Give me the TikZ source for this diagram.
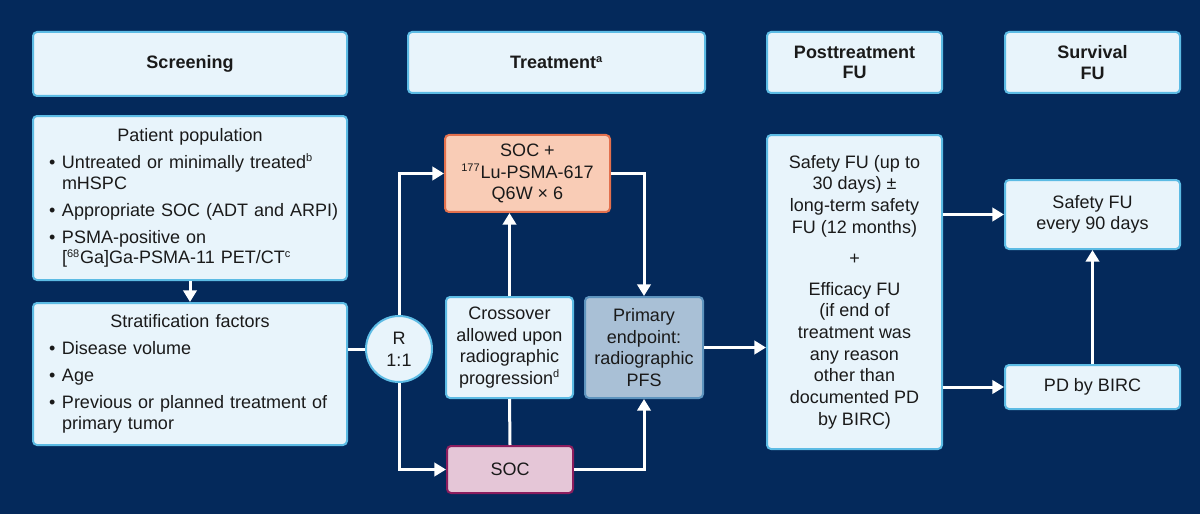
\documentclass[tikz,border=0pt]{standalone}
\usepackage{fontspec}
\setmainfont{Liberation Sans}
\usepackage{tikz}
\usetikzlibrary{arrows.meta}

\definecolor{navy}{HTML}{04295B}
\definecolor{boxfill}{HTML}{E8F4FB}
\definecolor{boxline}{HTML}{5CBBE4}
\definecolor{ink}{HTML}{1A1A1A}
\definecolor{lufill}{HTML}{F9CCB6}
\definecolor{luline}{HTML}{E3704D}
\definecolor{socfill}{HTML}{E5C6D7}
\definecolor{socline}{HTML}{8C1D5E}
\definecolor{pfsfill}{HTML}{A9C0D6}
\definecolor{pfsline}{HTML}{5E94BE}

% list helpers for the screening boxes
\newcommand{\ttl}[1]{{\centering #1\par}}
\newcommand{\itm}[1]{\par\vspace{3.8pt}\noindent\hangindent=7.8pt\hangafter=1\rightskip=-12pt plus 1fil\relax\makebox[7.8pt][l]{•}#1\par}
\newcommand{\fn}[1]{\textsuperscript{\fontsize{6.6}{7}\selectfont #1}}

\begin{document}
\begin{tikzpicture}[x=0.6pt, y=-0.6pt,
    box/.style={draw=boxline, fill=boxfill, line width=1.2pt, rounded corners=2.4pt,
      text=ink, inner sep=0pt, align=center, font=\fontsize{10.8}{13}\selectfont},
    head/.style={box, font=\fontsize{10.8}{12.2}\selectfont\bfseries},
    list/.style={box, align=left, text width=169.2pt, font=\fontsize{10.8}{12.4}\selectfont},
    flow/.style={draw=white, line width=1.8pt},
    arr/.style={flow, -{Triangle[width=8pt,length=7pt]}}]

  % Background
  \fill[navy] (0,0) rectangle (1200,514);

  % Column headers
  \node[head, minimum width=188.4pt, minimum height=38.4pt] (scr) at (190,64) {Screening};
  \node[head, minimum width=178.2pt, minimum height=36.6pt] (trt) at (556.5,62.5) {Treatment\fn{a}};
  \node[head, minimum width=105pt, minimum height=36.6pt] (ptf) at (854.5,62.5) {Posttreatment\\FU};
  \node[head, minimum width=105pt, minimum height=36.6pt] (svf) at (1092.5,62.5) {Survival\\FU};

  % Screening
  \node[list, minimum width=188.4pt, minimum height=98.4pt] (pop) at (190,198)
    {\ttl{Patient population}%
     \itm{Untreated or minimally treated\fn{b}\newline mHSPC}%
     \itm{Appropriate SOC (ADT and ARPI)}%
     \itm{PSMA-positive on\newline [\fn{68}Ga]Ga-PSMA-11 PET/CT\fn{c}}};
  \node[list, minimum width=188.4pt, minimum height=85.2pt] (strat) at (190,374)
    {\ttl{Stratification factors}%
     \itm{Disease volume}%
     \itm{Age}%
     \itm{Previous or planned treatment of\newline primary tumor}};

  % Randomisation and arms
  \node[box, circle, minimum size=39.6pt] (R) at (399,349) {R\\1:1};
  \node[box, draw=luline, fill=lufill, minimum width=99pt, minimum height=46.2pt] (socplus) at (527.5,173.5)
    {SOC +\\\fn{177}Lu-PSMA-617\\Q6W × 6};
  \node[box, minimum width=76.2pt, minimum height=60.6pt] (cross) at (509.5,347.5)
    {Crossover\\allowed upon\\radiographic\\progression\fn{d}};
  \node[box, draw=pfsline, fill=pfsfill, minimum width=70.8pt, minimum height=60.6pt] (prim) at (644,347.5)
    {Primary\\endpoint:\\radiographic\\PFS};
  \node[box, draw=socline, fill=socfill, minimum width=75.6pt, minimum height=28.2pt] (soc) at (510,469.5) {SOC};

  % Follow-up
  \node[box, minimum width=105pt, minimum height=188.4pt] (post) at (854.5,292)
    {Safety FU (up to\\30 days) ±\\long-term safety\\FU (12 months)\\[5.6pt]+\\[5.6pt]Efficacy FU\\(if end of\\treatment was\\any reason\\other than\\documented PD\\by BIRC)};
  \node[box, minimum width=105pt, minimum height=41.4pt] (safe) at (1092.5,214.5) {Safety FU\\every 90 days};
  \node[box, minimum width=105pt, minimum height=26.4pt] (pd) at (1092.5,387) {PD by BIRC};

  % Connectors
  \draw[arr] (pop) -- (strat);
  \draw[flow] (strat.east |- R.west) -- (R.west);
  \draw[arr] (R.north) |- (socplus.west);
  \draw[arr] (R.south) |- (soc.west);
  \draw[arr] (cross.north) -- (cross.north |- socplus.south);
  \draw[flow] (soc.north) -- (cross.south);
  \draw[arr] (socplus.east) -| (prim.north);
  \draw[arr] (soc.east) -| (prim.south);
  \draw[arr] (prim.east) -- (post.west |- prim.east);
  \draw[arr] (post.east |- safe.west) -- (safe.west);
  \draw[arr] (post.east |- pd.west) -- (pd.west);
  \draw[arr] (pd) -- (safe);
\end{tikzpicture}
\end{document}
